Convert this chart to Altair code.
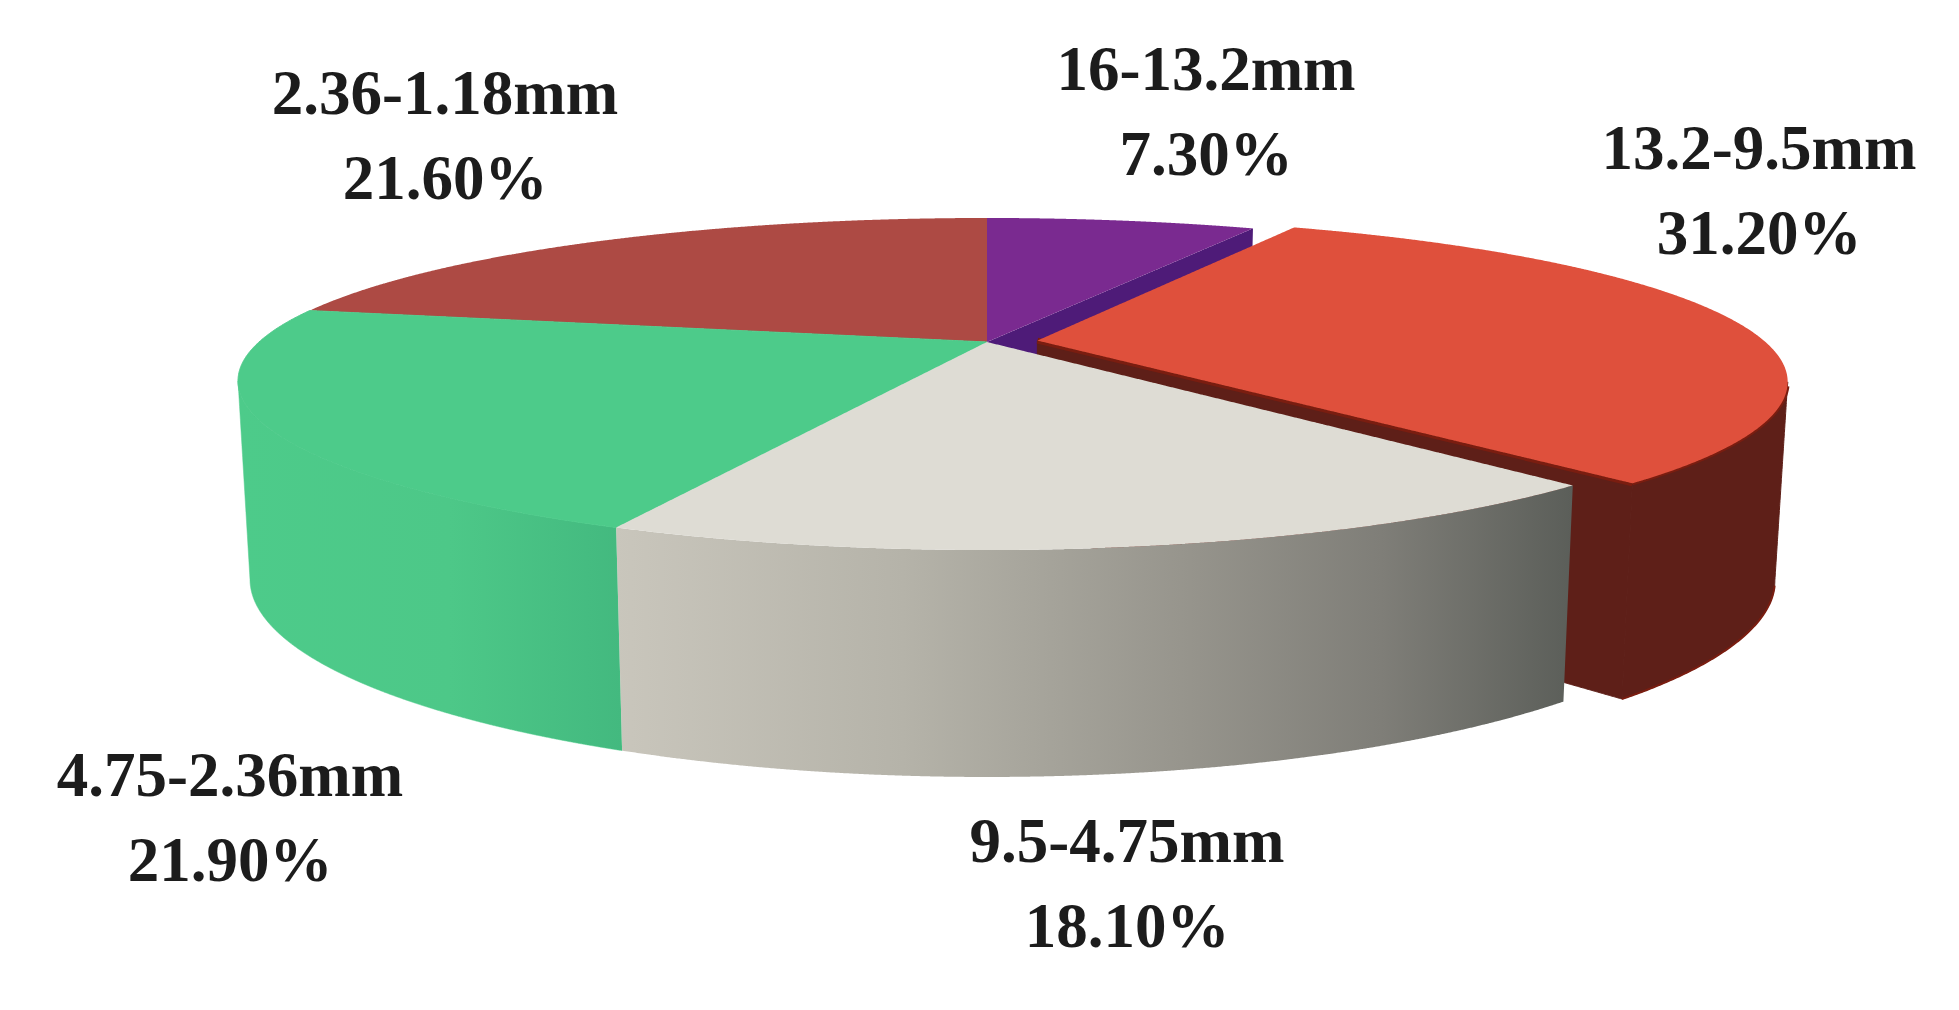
import altair as alt
import numpy as np
import pandas as pd

# ---- data ----
categories = ["16-13.2mm", "13.2-9.5mm", "9.5-4.75mm", "4.75-2.36mm", "2.36-1.18mm"]
shares = [7.30, 31.20, 18.10, 21.90, 21.60]
share_labels = ["7.30%", "31.20%", "18.10%", "21.90%", "21.60%"]

# ---- styling and layout ----
top_colors = ["#7a2a90", "#df503c", "#dedcd4", "#4dcb8a", "#ad4a44"]
PAGE_W, PAGE_H, MARGIN = 1959, 1010, 8
label_centres = {  # centre of each two-line label
    "16-13.2mm": (1206, 113), "13.2-9.5mm": (1759, 192), "9.5-4.75mm": (1127, 885),
    "4.75-2.36mm": (230, 819), "2.36-1.18mm": (445, 137),
}
LINE_GAP = 85
FONT_SIZE = 63

# ---- perspective view of a flat disc ----
CX, CY_TOP, CY_BOT = 987, 342, 534
F_TOP, G_TOP, G_BOT = 728, 155.4, 181.5
KX, KY = 0.235, 0.253
SHRINK = 0.984
EXPLODE = 0.07


def project(turn, radius=1.0, level="top", offset=(0.0, 0.0)):
    """Map a fraction of the pie (clockwise from 12 o'clock) to the view plane."""
    a = 2 * np.pi * np.asarray(turn, dtype=float)
    X = radius * np.sin(a) + offset[0]
    Y = radius * np.cos(a) + offset[1]
    s = 1.0 if level == "top" else SHRINK
    cy = CY_TOP if level == "top" else CY_BOT
    g = G_TOP if level == "top" else G_BOT
    return CX + s * F_TOP * X / (1 + KX * Y), cy - g * Y / (1 + KY * Y)


def envelope(px, py):
    """Turn a closed outline into x / y / y2 rows for an area mark."""
    px, py = np.asarray(px), np.asarray(py)
    xs = np.unique(np.concatenate([px, np.linspace(px.min(), px.max(), 500)]))
    nx, ny = np.roll(px, -1), np.roll(py, -1)
    rows = []
    for x in xs:
        hit = ((px <= x) & (nx >= x)) | ((nx <= x) & (px >= x))
        dx = nx[hit] - px[hit]
        safe = np.where(np.abs(dx) < 1e-9, 1.0, dx)
        t = np.where(np.abs(dx) < 1e-9, 0.0, (x - px[hit]) / safe)
        ys = py[hit] + t * (ny[hit] - py[hit])
        extra = np.concatenate([ys, ny[hit][np.abs(dx) < 1e-9]])
        rows.append({"x": x, "y": extra.min(), "y2": extra.max()})
    return pd.DataFrame(rows)


fractions = np.array(shares) / sum(shares)
edges = np.concatenate([[0], np.cumsum(fractions)])
spans = {c: (edges[i], edges[i + 1]) for i, c in enumerate(categories)}
offsets = {c: (0.0, 0.0) for c in categories}
mid = 2 * np.pi * np.mean(spans["13.2-9.5mm"])
offsets["13.2-9.5mm"] = (EXPLODE * np.sin(mid), EXPLODE * np.cos(mid))


def top_outline(cat):
    a, b = spans[cat]
    off = offsets[cat]
    t = np.linspace(a, b, 160)
    x, y = project(t, offset=off)
    x0, y0 = project(0.0, radius=0.0, offset=off)
    return np.r_[x0, x], np.r_[y0, y]


def wall_outline(cat, a, b):
    off = offsets[cat]
    t = np.linspace(a, b, 160)
    x1, y1 = project(t, offset=off)
    x2, y2 = project(t, level="bot", offset=off)
    return np.r_[x1, x2[::-1]], np.r_[y1, y2[::-1]]


def face_outline(cat, turn):
    off = offsets[cat]
    x1, y1 = project(0.0, radius=0.0, offset=off)
    x2, y2 = project(turn, offset=off)
    x3, y3 = project(turn, level="bot", offset=off)
    x4, y4 = project(0.0, radius=0.0, level="bot", offset=off)
    return np.array([x1, x2, x3, x4]), np.array([y1, y2, y3, y4])


xscale = alt.Scale(domain=[MARGIN, PAGE_W - MARGIN], nice=False, zero=False)
yscale = alt.Scale(domain=[PAGE_H - MARGIN, MARGIN], nice=False, zero=False)


def area(outline, **mark):
    df = envelope(*outline)
    return alt.Chart(df).mark_area(**mark).encode(
        x=alt.X("x:Q", scale=xscale, axis=None),
        y=alt.Y("y:Q", scale=yscale, axis=None),
        y2="y2:Q",
    )


def rim(px, py, **mark):
    df = pd.DataFrame({"x": px, "y": py, "o": np.arange(len(px))})
    return alt.Chart(df).mark_line(**mark).encode(
        x=alt.X("x:Q", scale=xscale, axis=None),
        y=alt.Y("y:Q", scale=yscale, axis=None),
        order="o:Q",
    )


def gradient(colors, pos):
    return alt.Gradient(
        gradient="linear", x1=0, x2=1, y1=0, y2=0,
        stops=[alt.GradientStop(color=c, offset=p) for c, p in zip(colors, pos)],
    )


# the turning points of the silhouette
tt = np.linspace(0, 1, 3601)
red = "13.2-9.5mm"
ra, rb = spans[red]
rt = tt[(tt >= ra) & (tt <= rb)]
t_right = rt[np.argmax(project(rt, offset=offsets[red])[0])]
gr = "4.75-2.36mm"
ga, gb = spans[gr]
gt = tt[(tt >= ga) & (tt <= gb)]
t_left = gt[np.argmin(project(gt)[0])]
grey = "9.5-4.75mm"
purple, brown = categories[0], categories[4]
col = dict(zip(categories, top_colors))

rim_t = np.linspace(t_right + 0.004, rb, 120)
rim_top = project(rim_t, offset=offsets[red])
rim_bot = project(rim_t, level="bot", offset=offsets[red])
rim_face = face_outline(red, rb)
RIM = "#7a1d10"
WALL = "#5e1f18"

layers = [
    area(face_outline(purple, spans[purple][1]), color="#4e1b78"),
    area(top_outline(purple), color=col[purple]),
    area(top_outline(brown), color=col[brown]),
    area(wall_outline(red, t_right, rb), color=WALL, stroke=WALL, strokeWidth=1),
    area(rim_face, color=WALL, stroke=WALL, strokeWidth=1),
    rim(rim_bot[0], rim_bot[1], color=RIM, strokeWidth=2),
    rim(rim_top[0], rim_top[1], color=RIM, strokeWidth=4),
    rim(rim_face[0][:2], rim_face[1][:2], color=RIM, strokeWidth=6),
    area(top_outline(red), color=col[red]),
    area(wall_outline(gr, ga, t_left),
         color=gradient(["#4dcb8a", "#4dc888", "#43b97f"], [0, 0.55, 1]),
         stroke="#4dcb8a", strokeWidth=0.5),
    area(top_outline(gr), color=col[gr], stroke=col[gr], strokeWidth=1),
    area(wall_outline(grey, spans[grey][0], spans[grey][1]),
         color=gradient(["#c9c6bc", "#b5b3a9", "#96948c", "#7f7e78", "#5b5e59"],
                        [0, 0.3, 0.6, 0.8, 1])),
    area(top_outline(grey), color=col[grey]),
]

rows = []
for c, s in zip(categories, share_labels):
    lx, ly = label_centres[c]
    rows.append({"text": c, "x": lx, "y": ly - LINE_GAP / 2})
    rows.append({"text": s, "x": lx, "y": ly + LINE_GAP / 2})
labels = alt.Chart(pd.DataFrame(rows)).mark_text(
    font="Liberation Serif", fontWeight="bold", fontSize=FONT_SIZE, color="#1c1c1c",
    align="center", baseline="middle",
).encode(
    x=alt.X("x:Q", scale=xscale, axis=None),
    y=alt.Y("y:Q", scale=yscale, axis=None),
    text="text:N",
)

chart = alt.layer(*layers, labels).properties(
    width=PAGE_W - 2 * MARGIN, height=PAGE_H - 2 * MARGIN,
    padding=0, autosize=alt.AutoSizeParams(type="none"),
).configure_view(stroke=None)

chart.save("out.html", embed_options={"renderer": "svg", "actions": False})
